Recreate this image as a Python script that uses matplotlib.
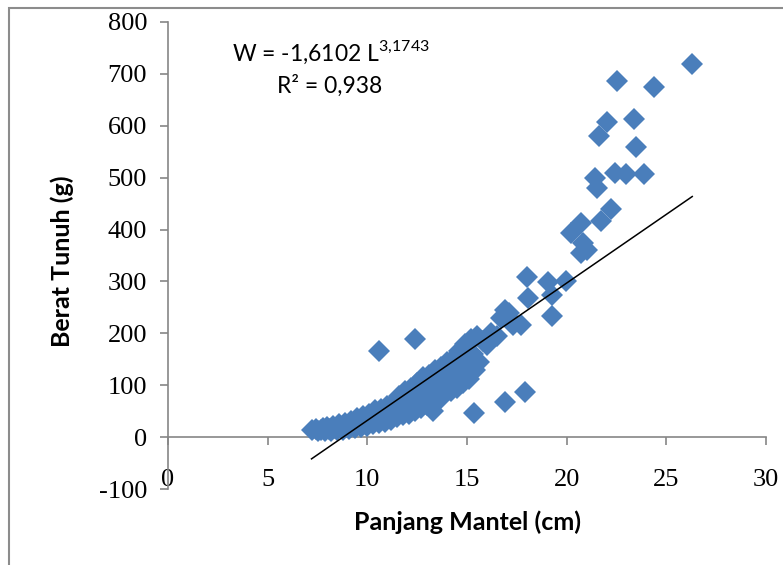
import numpy as np
import matplotlib
matplotlib.use("Agg")
import matplotlib.pyplot as plt
from matplotlib.patches import Rectangle

plt.rcParams['axes.unicode_minus'] = False

# dense cluster of small squid (mantle length cm, body weight g)
cluster_x = [7.2, 7.4, 7.5, 7.7, 7.8, 7.9, 8.0, 8.1, 8.2, 8.3, 8.4, 8.5, 8.6, 8.7, 8.8,
             8.9, 9.0, 9.1, 9.2, 9.3, 9.4, 9.5, 9.6, 9.7, 9.8, 9.9, 10.0, 10.1, 10.2, 10.3,
             10.4, 10.5, 10.6, 10.7, 10.8, 10.9, 11.0, 11.1, 11.2, 11.3, 11.4, 11.5, 11.6,
             11.7, 11.8, 11.9, 12.0, 12.1, 12.2, 12.3, 12.4, 12.5, 12.6, 12.7, 12.8, 12.9,
             13.0, 13.1, 13.2, 13.3, 13.4, 13.5, 13.6, 13.7, 13.8, 13.9, 14.0, 14.1, 14.2,
             14.3, 14.4, 14.5, 14.6, 14.7, 14.8, 14.9, 15.0, 15.1, 15.2, 15.3, 15.4, 15.5,
             15.6, 15.8, 16.0, 16.2, 16.5, 16.7, 16.9, 17.1, 17.3, 17.7, 17.2]
cluster_y = [13, 16, 11, 14, 18, 12, 20, 15, 11, 22, 17, 14, 25, 19, 13,
             28, 22, 16, 31, 25, 18, 36, 28, 20, 40, 30, 22, 45, 35, 25,
             52, 40, 28, 55, 45, 30, 60, 48, 33, 66, 52, 38, 80,
             60, 42, 88, 70, 45, 95, 75, 50, 105, 82, 56, 115, 90,
             62, 120, 95, 50, 130, 105, 72, 135, 110, 85, 145, 120, 88,
             150, 125, 95, 165, 135, 105, 180, 150, 112, 190, 160, 130, 195,
             145, 185, 178, 200, 195, 230, 245, 240, 216, 216, 225]

# larger individuals
large_x = [18.0, 19.07, 19.97, 18.06, 19.27, 19.27, 20.2, 20.7, 20.8, 21.0, 20.7,
           21.7, 22.2, 21.4, 21.5, 22.4, 23.0, 23.9, 21.6, 23.5, 22.0, 23.4, 22.5,
           24.4, 26.3]
large_y = [308, 299, 301, 268, 274, 233, 393, 412, 374, 360, 354,
           416, 439, 499, 480, 509, 507, 507, 580, 559, 607, 613, 687,
           674, 720]

# isolated points off the band
outlier_x = [10.6, 12.4, 15.35, 16.9, 17.9]
outlier_y = [166, 189, 46, 67, 87]

# linear trendline as drawn in the sheet
trend_slope = 26.47
trend_intercept = -232.5

x_ticks = [0, 5, 10, 15, 20, 25, 30]
y_ticks = [-100, 0, 100, 200, 300, 400, 500, 600, 700, 800]

all_x = np.array(cluster_x + large_x + outlier_x)
all_y = np.array(cluster_y + large_y + outlier_y)

fig = plt.figure(figsize=(7.83, 5.65), dpi=100)
ax = fig.add_axes([168 / 783, 1 - 489 / 565, 598 / 783, 467 / 565])

blue = '#4A7EBB'
grey = '#868686'

ax.plot(all_x, all_y, 'D', color=blue, markersize=11, markeredgewidth=0, zorder=3)

tx = np.array([all_x.min(), all_x.max()])
ax.plot(tx, trend_slope * tx + trend_intercept, color='black', lw=1.1, zorder=4)

ax.set_xlim(0, 30)
ax.set_ylim(-100, 800)

for s in ['top', 'right']:
    ax.spines[s].set_visible(False)
ax.spines['left'].set_color(grey)
ax.spines['left'].set_linewidth(1.2)
ax.spines['bottom'].set_position(('data', 0))
ax.spines['bottom'].set_color(grey)
ax.spines['bottom'].set_linewidth(1.2)

ax.set_xticks(x_ticks)
ax.set_xticklabels([str(t) for t in x_ticks])
ax.set_yticks(y_ticks)
ax.set_yticklabels([str(t) for t in y_ticks])
ax.tick_params(axis='both', direction='out', length=6, width=1.2, color=grey,
               labelsize=19)
ax.tick_params(axis='y', pad=9)
ax.tick_params(axis='x', pad=17)
for lab in ax.get_xticklabels() + ax.get_yticklabels():
    lab.set_family('Liberation Serif')

ax.set_xlabel('Panjang Mantel (cm)', fontsize=18, fontweight='bold', family='Lato')
ax.xaxis.set_label_coords(0.5, -0.071)
ax.xaxis.label.set_va('center')
ax.set_ylabel('Berat Tunuh (g)', fontsize=18, fontweight='bold', family='Lato')
ax.yaxis.set_label_coords(-0.177, 0.488)
ax.yaxis.label.set_va('center')

ax.text(0.107, 0.936, 'W = -1,6102 L$^{\\mathregular{3{,}1743}}$', transform=ax.transAxes,
        fontsize=16.5, family='Lato', ha='left', va='center')
ax.text(0.182, 0.863, 'R² = 0,938', transform=ax.transAxes,
        fontsize=16.5, family='Lato', ha='left', va='center')

fig.patches.append(Rectangle((9 / 783, -0.2), 1.2, 1 - 8 / 565 + 0.2,
                             transform=fig.transFigure, fill=False,
                             edgecolor='#8c8c8c', lw=1.5))

fig.savefig('out.png', dpi=100)
